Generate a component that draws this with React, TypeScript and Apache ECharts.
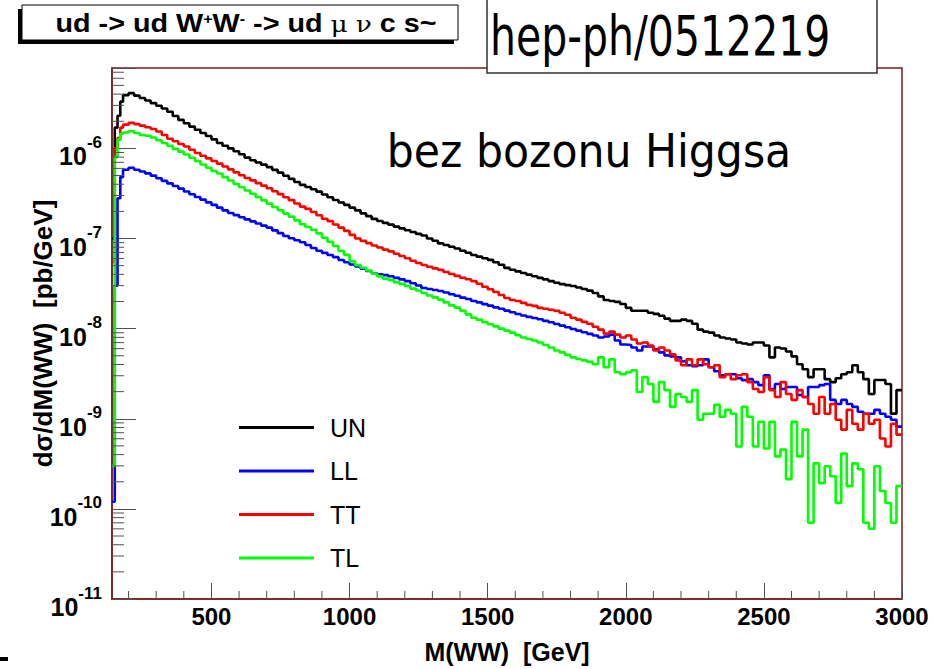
import React, { useEffect, useRef } from 'react';
import * as echarts from 'echarts';

// Bin edges of the M(WW) histograms [GeV]
const BIN_EDGES = [
  140, 150, 160, 170, 180, 200, 220, 240, 260, 280, 300, 320, 340, 360, 380, 400, 420, 440, 460, 480,
  500, 520, 540, 560, 580, 600, 620, 640, 660, 680, 700, 720, 740, 760, 780, 800, 820, 840, 860, 880,
  900, 920, 940, 960, 980, 1000, 1020, 1040, 1060, 1080, 1100, 1120, 1140, 1160, 1180, 1200, 1220, 1240, 1260, 1280,
  1300, 1320, 1340, 1360, 1380, 1400, 1420, 1440, 1460, 1480, 1500, 1520, 1540, 1560, 1580, 1600, 1620, 1640, 1660, 1680,
  1700, 1720, 1740, 1760, 1780, 1800, 1820, 1840, 1860, 1880, 1900, 1920, 1940, 1960, 1980, 2000, 2020, 2040, 2060, 2080,
  2100, 2120, 2140, 2160, 2180, 2200, 2220, 2240, 2260, 2280, 2300, 2320, 2340, 2360, 2380, 2400, 2420, 2440, 2460, 2480,
  2500, 2520, 2540, 2560, 2580, 2600, 2620, 2640, 2660, 2680, 2700, 2720, 2740, 2760, 2780, 2800, 2820, 2840, 2860, 2880,
  2900, 2920, 2940, 2960, 2980, 3000,
];

// dsigma/dM(WW) [pb/GeV] per bin
const UN = [
  1.0e-7, 1.7e-6, 2.3e-6, 3.3e-6,
  3.9e-6, 4.1e-6, 3.85e-6, 3.63e-6, 3.4e-6, 3.18e-6, 2.97e-6, 2.77e-6, 2.55e-6, 2.29e-6,
  2.07e-6, 1.9e-6, 1.745e-6, 1.61e-6, 1.48e-6, 1.37e-6, 1.26e-6, 1.15e-6, 1.07e-6, 1.0e-6,
  9.3e-7, 8.6e-7, 7.9e-7, 7.4e-7, 6.97e-7, 6.6e-7, 6.2e-7, 5.78e-7, 5.38e-7, 4.97e-7,
  4.59e-7, 4.23e-7, 3.94e-7, 3.73e-7, 3.52e-7, 3.31e-7, 3.08e-7, 2.87e-7, 2.68e-7, 2.51e-7,
  2.36e-7, 2.2e-7, 2.05e-7, 1.9e-7, 1.77e-7, 1.65e-7, 1.565e-7, 1.49e-7, 1.425e-7, 1.355e-7,
  1.295e-7, 1.234e-7, 1.18e-7, 1.126e-7, 1.08e-7, 1.0e-7, 9.43e-8, 8.83e-8, 8.48e-8, 8.1e-8,
  7.76e-8, 7.31e-8, 6.95e-8, 6.57e-8, 6.29e-8, 6.03e-8, 5.8e-8, 5.45e-8, 5.11e-8, 4.72e-8,
  4.5e-8, 4.32e-8, 4.15e-8, 3.97e-8, 3.82e-8, 3.66e-8, 3.52e-8, 3.37e-8, 3.23e-8, 3.12e-8,
  3.04e-8, 2.97e-8, 2.86e-8, 2.75e-8, 2.64e-8, 2.49e-8, 2.28e-8, 2.08e-8, 2.03e-8, 1.98e-8,
  1.88e-8, 1.7e-8, 1.58e-8, 1.58e-8, 1.58e-8, 1.5e-8, 1.46e-8, 1.39e-8, 1.29e-8, 1.22e-8,
  1.22e-8, 1.26e-8, 1.22e-8, 1.135e-8, 9.75e-9, 9.27e-9, 9.04e-9, 8.38e-9, 7.96e-9, 7.76e-9,
  7.57e-9, 7.02e-9, 6.84e-9, 6.67e-9, 7.02e-9, 7.02e-9, 6.5e-9, 4.8e-9, 6.18e-9, 6.03e-9,
  5.58e-9, 4.92e-9, 4.02e-9, 3.54e-9, 2.9e-9, 3.54e-9, 3.54e-9, 2.75e-9, 2.55e-9, 2.82e-9,
  3.12e-9, 3.28e-9, 3.92e-9, 3.28e-9, 2.75e-9, 1.88e-9, 2.69e-9, 2.69e-9, 2.43e-9, 1.14e-9,
  2.08e-9,
];

const LL = [
  1.2e-10, 3.0e-8, 2.8e-7, 4.8e-7,
  5.8e-7, 6.1e-7, 5.8e-7, 5.55e-7, 5.28e-7, 4.99e-7, 4.66e-7, 4.36e-7, 4.09e-7, 3.82e-7,
  3.58e-7, 3.33e-7, 3.1e-7, 2.89e-7, 2.7e-7, 2.52e-7, 2.36e-7, 2.2e-7, 2.05e-7, 1.92e-7,
  1.82e-7, 1.72e-7, 1.63e-7, 1.55e-7, 1.47e-7, 1.39e-7, 1.32e-7, 1.23e-7, 1.147e-7, 1.065e-7,
  1.008e-7, 9.58e-8, 9.1e-8, 8.46e-8, 7.84e-8, 7.31e-8, 6.93e-8, 6.57e-8, 6.21e-8, 5.77e-8,
  5.45e-8, 5.14e-8, 4.91e-8, 4.62e-8, 4.36e-8, 4.11e-8, 4.02e-8, 3.92e-8, 3.82e-8, 3.66e-8,
  3.52e-8, 3.37e-8, 3.19e-8, 3.01e-8, 2.82e-8, 2.75e-8, 2.68e-8, 2.62e-8, 2.52e-8, 2.41e-8,
  2.32e-8, 2.21e-8, 2.13e-8, 2.03e-8, 1.955e-8, 1.87e-8, 1.8e-8, 1.72e-8, 1.66e-8, 1.585e-8,
  1.52e-8, 1.455e-8, 1.4e-8, 1.35e-8, 1.31e-8, 1.27e-8, 1.22e-8, 1.176e-8, 1.126e-8, 1.081e-8,
  1.038e-8, 9.9e-9, 9.5e-9, 9.13e-9, 8.75e-9, 8.38e-9, 7.96e-9, 8.17e-9, 8.59e-9, 7.38e-9,
  6.67e-9, 6.59e-9, 6.18e-9, 5.73e-9, 6.34e-9, 6.34e-9, 5.88e-9, 5.45e-9, 5.05e-9, 4.92e-9,
  4.8e-9, 4.34e-9, 3.92e-9, 3.82e-9, 3.92e-9, 4.56e-9, 3.73e-9, 3.37e-9, 3.04e-9, 3.12e-9,
  3.12e-9, 2.82e-9, 2.68e-9, 2.75e-9, 2.55e-9, 2.36e-9, 3.04e-9, 2.14e-9, 2.43e-9, 2.14e-9,
  2.25e-9, 2.25e-9, 1.835e-9, 1.745e-9, 2.25e-9, 2.25e-9, 2.36e-9, 2.43e-9, 1.62e-9, 1.46e-9,
  1.62e-9, 1.46e-9, 1.355e-9, 1.194e-9, 1.135e-9, 1.135e-9, 1.256e-9, 1.135e-9, 1.052e-9, 9.75e-10,
  8.17e-10,
];

const TT = [
  5.5e-8, 1.0e-6, 1.3e-6, 1.7e-6,
  1.835e-6, 1.92e-6, 1.86e-6, 1.79e-6, 1.715e-6, 1.64e-6, 1.54e-6, 1.41e-6, 1.28e-6, 1.2e-6,
  1.12e-6, 1.05e-6, 9.65e-7, 8.88e-7, 8.29e-7, 7.74e-7, 7.25e-7, 6.77e-7, 6.29e-7, 5.85e-7,
  5.42e-7, 5.04e-7, 4.69e-7, 4.42e-7, 4.12e-7, 3.86e-7, 3.61e-7, 3.34e-7, 3.11e-7, 2.87e-7,
  2.67e-7, 2.45e-7, 2.26e-7, 2.13e-7, 1.97e-7, 1.81e-7, 1.66e-7, 1.56e-7, 1.43e-7, 1.32e-7,
  1.215e-7, 1.098e-7, 1.0e-7, 9.41e-8, 8.88e-8, 8.38e-8, 7.96e-8, 7.53e-8, 7.2e-8, 6.77e-8,
  6.4e-8, 6.03e-8, 5.67e-8, 5.34e-8, 5.09e-8, 4.87e-8, 4.66e-8, 4.49e-8, 4.25e-8, 4.04e-8,
  3.85e-8, 3.67e-8, 3.53e-8, 3.37e-8, 3.15e-8, 2.92e-8, 2.74e-8, 2.55e-8, 2.36e-8, 2.19e-8,
  2.08e-8, 2.03e-8, 1.93e-8, 1.835e-8, 1.79e-8, 1.7e-8, 1.66e-8, 1.62e-8, 1.58e-8, 1.5e-8,
  1.425e-8, 1.32e-8, 1.26e-8, 1.19e-8, 1.135e-8, 1.05e-8, 9.75e-9, 8.81e-9, 9.27e-9, 8.59e-9,
  7.96e-9, 8.38e-9, 7.57e-9, 6.84e-9, 7.02e-9, 6.5e-9, 5.73e-9, 6.18e-9, 5.73e-9, 5.18e-9,
  4.45e-9, 3.92e-9, 4.56e-9, 3.92e-9, 4.56e-9, 4.02e-9, 3.73e-9, 3.92e-9, 2.89e-9, 3.12e-9,
  2.75e-9, 3.04e-9, 3.12e-9, 2.55e-9, 2.14e-9, 1.98e-9, 2.89e-9, 2.08e-9, 1.745e-9, 2.55e-9,
  1.88e-9, 1.62e-9, 2.08e-9, 1.745e-9, 1.46e-9, 1.135e-9, 1.745e-9, 1.135e-9, 1.46e-9, 9.75e-10,
  7.57e-10, 1.256e-9, 8.81e-10, 7.57e-10, 1.135e-9, 8.81e-10, 9.75e-10, 6.03e-10, 4.92e-10, 8.81e-10,
  6.67e-10,
];

const TL = [
  3.0e-10, 8.0e-7, 1.25e-6, 1.45e-6,
  1.5e-6, 1.55e-6, 1.48e-6, 1.41e-6, 1.38e-6, 1.32e-6, 1.23e-6, 1.15e-6, 1.07e-6, 9.87e-7,
  9.2e-7, 8.55e-7, 7.86e-7, 7.23e-7, 6.62e-7, 6.1e-7, 5.62e-7, 5.26e-7, 4.8e-7, 4.41e-7,
  4.03e-7, 3.71e-7, 3.41e-7, 3.14e-7, 2.88e-7, 2.65e-7, 2.44e-7, 2.24e-7, 2.06e-7, 1.89e-7,
  1.75e-7, 1.59e-7, 1.44e-7, 1.34e-7, 1.25e-7, 1.14e-7, 1.02e-7, 9.22e-8, 8.27e-8, 7.29e-8,
  6.59e-8, 5.59e-8, 5.07e-8, 4.73e-8, 4.41e-8, 4.09e-8, 3.8e-8, 3.59e-8, 3.48e-8, 3.28e-8,
  3.14e-8, 2.97e-8, 2.78e-8, 2.65e-8, 2.49e-8, 2.33e-8, 2.22e-8, 2.1e-8, 1.955e-8, 1.81e-8,
  1.71e-8, 1.58e-8, 1.44e-8, 1.32e-8, 1.26e-8, 1.18e-8, 1.12e-8, 1.06e-8, 1.0e-8, 9.5e-9,
  9.04e-9, 8.46e-9, 7.96e-9, 7.66e-9, 7.38e-9, 7.02e-9, 6.59e-9, 6.18e-9, 5.73e-9, 5.45e-9,
  5.11e-9, 4.8e-9, 4.61e-9, 4.45e-9, 4.28e-9, 4.02e-9, 4.8e-9, 3.73e-9, 4.56e-9, 3.28e-9,
  3.12e-9, 3.28e-9, 3.45e-9, 1.98e-9, 2.89e-9, 2.43e-9, 1.54e-9, 2.55e-9, 2.08e-9, 1.355e-9,
  1.88e-9, 1.745e-9, 1.54e-9, 2.08e-9, 9.75e-10, 1.135e-9, 1.135e-9, 1.425e-9, 1.052e-9, 1.256e-9,
  1.135e-9, 4.92e-10, 1.355e-9, 1.052e-9, 4.92e-10, 9.27e-10, 4.68e-10, 9.27e-10, 3.82e-10, 4.56e-10,
  2.14e-10, 9.27e-10, 3.82e-10, 7.57e-10, 7.02e-11, 3.2e-10, 1.93e-10, 2.97e-10, 2.3e-10, 1.163e-10,
  4.12e-10, 1.79e-10, 3.2e-10, 2.75e-10, 7.02e-11, 6.03e-11, 2.97e-10, 1.58e-10, 1.163e-10, 7.02e-11,
  1.79e-10,
];

const SERIES_NAMES = ['UN', 'LL', 'TT', 'TL'];
const SERIES_COLORS = ['#000000', '#0000ff', '#ff0000', '#00ff00'];

const X_MIN = 140;
const X_MAX = 3000;
const Y_MIN = 1e-11;
const Y_MAX = 7.8e-6;
const X_MAJOR_TICKS = [500, 1000, 1500, 2000, 2500, 3000];
const X_MINOR_TICKS = [200, 300, 400, 600, 700, 800, 900, 1100, 1200, 1300, 1400, 1600, 1700, 1800, 1900, 2100, 2200, 2300, 2400, 2600, 2700, 2800, 2900];
const Y_DECADES = [-11, -10, -9, -8, -7, -6];
const Y_MINOR_MANTISSAS = [2, 3, 4, 5, 6, 7, 8, 9];

const TITLE_TEXT = 'ud -> ud W{sup|+}W{sup|-} -> ud {g|μ} {g|ν} c s~';
const ARXIV_TEXT = 'hep-ph/0512219';
const NOTE_TEXT = 'bez bozonu Higgsa';
const X_TITLE = 'M(WW)  [GeV]';
const Y_TITLE = 'dσ/dM(WW)  [pb/GeV]';

const FONT = "'Liberation Sans', Arial, Helvetica, sans-serif";
const FRAME = '#7a1c1c';
const TICK = '#505050';

function histPoints(vals: number[]) {
  const pts: number[][] = vals.map((v, i) => [BIN_EDGES[i], v]);
  pts.push([BIN_EDGES[vals.length], vals[vals.length - 1]]);
  return pts;
}

export default function App() {
  const ref = useRef<HTMLDivElement>(null);

  useEffect(() => {
    document.body.style.margin = '0';
    if (!ref.current) return;
    const chart = echarts.init(ref.current, undefined, { renderer: 'svg' });

    const yMinor: number[][] = [];
    Y_DECADES.forEach((d) => {
      Y_MINOR_MANTISSAS.forEach((m) => {
        const v = m * Math.pow(10, d);
        if (v < Y_MAX) yMinor.push([X_MIN, v]);
      });
    });

    const seriesData = [UN, LL, TT, TL];

    const option: any = {
      animation: false,
      backgroundColor: '#ffffff',
      grid: {
        left: 112, top: 68, width: 790, height: 536,
        show: true, borderColor: FRAME, borderWidth: 1.5, backgroundColor: 'transparent',
      },
      legend: {
        data: SERIES_NAMES,
        orient: 'vertical',
        left: 239,
        top: 415,
        padding: 0,
        icon: 'rect',
        itemWidth: 75,
        itemHeight: 3,
        itemGap: 18.5,
        selectedMode: false,
        textStyle: { fontFamily: FONT, fontSize: 25, color: '#000', lineHeight: 25, padding: [0, 0, 0, 11] },
      },
      xAxis: {
        type: 'value',
        min: X_MIN,
        max: X_MAX,
        axisLine: { show: true, lineStyle: { color: FRAME, width: 1.5 } },
        axisTick: { show: true, inside: true, length: 16, customValues: X_MAJOR_TICKS, lineStyle: { color: TICK, width: 1 } },
        axisLabel: {
          customValues: X_MAJOR_TICKS,
          margin: 5,
          formatter: (v: number) => String(Math.round(v)),
          fontFamily: FONT, fontSize: 24, fontWeight: 'bold', color: '#000',
        },
        splitLine: { show: false },
        name: X_TITLE,
        nameLocation: 'middle',
        nameGap: 40,
        nameTextStyle: { fontFamily: FONT, fontSize: 25, fontWeight: 'bold', color: '#000' },
      },
      yAxis: {
        type: 'log',
        logBase: 10,
        min: Y_MIN,
        max: Y_MAX,
        axisLine: { show: true, lineStyle: { color: FRAME, width: 1.5 } },
        axisTick: { show: true, inside: true, length: 24, lineStyle: { color: TICK, width: 1 } },
        minorTick: { show: false },
        splitLine: { show: false },
        axisLabel: {
          margin: 10,
          padding: [16, 0, 0, 0],
          fontFamily: FONT,
          fontSize: 25,
          fontWeight: 'bold',
          color: '#000',
          formatter: (v: number) => {
            const e = Math.log10(v);
            const r = Math.round(e);
            if (Math.abs(e - r) > 0.01) return '';
            return '{b|10}{s|' + r + '}';
          },
          rich: {
            b: { fontFamily: FONT, fontSize: 25, fontWeight: 'bold', color: '#000', verticalAlign: 'bottom', lineHeight: 25 },
            s: { fontFamily: FONT, fontSize: 17, fontWeight: 'bold', color: '#000', verticalAlign: 'bottom', lineHeight: 17, padding: [0, 0, 18, 0] },
          },
        },
        name: Y_TITLE,
        nameLocation: 'middle',
        nameGap: 56,
        nameMoveOverlap: false,
        nameTextStyle: { fontFamily: FONT, fontSize: 26, fontWeight: 'bold', color: '#000' },
      },
      series: [
        ...seriesData.map((vals, i) => ({
          type: 'line',
          name: SERIES_NAMES[i],
          data: histPoints(vals),
          step: 'end',
          symbol: 'none',
          showSymbol: false,
          clip: true,
          lineStyle: { color: SERIES_COLORS[i], width: 2.6 },
          itemStyle: { color: SERIES_COLORS[i] },
          z: 3 + i,
        })),
        {
          type: 'custom',
          name: 'yminor',
          silent: true,
          data: yMinor,
          z: 10,
          renderItem: (params: any, api: any) => {
            const p = api.coord([api.value(0), api.value(1)]);
            return { type: 'line', shape: { x1: p[0], y1: p[1], x2: p[0] + 12, y2: p[1] }, style: { stroke: TICK, lineWidth: 1 } };
          },
        },
        {
          type: 'custom',
          name: 'xminor',
          silent: true,
          data: X_MINOR_TICKS.map((x) => [x, Y_MIN]),
          z: 10,
          renderItem: (params: any, api: any) => {
            const p = api.coord([api.value(0), api.value(1)]);
            return { type: 'line', shape: { x1: p[0], y1: p[1], x2: p[0], y2: p[1] - 8 }, style: { stroke: TICK, lineWidth: 1 } };
          },
        },
      ],
      graphic: [
        { type: 'rect', z: 100, shape: { x: 18, y: 9, width: 436, height: 35 }, style: { fill: '#000' } },
        { type: 'rect', z: 101, shape: { x: 22, y: 5, width: 436, height: 35 }, style: { fill: '#fff', stroke: '#000', lineWidth: 1 } },
        {
          type: 'text', z: 102, x: 246, y: 24, scaleX: 1.15,
          style: {
            text: TITLE_TEXT,
            fontFamily: FONT, fontSize: 25, fontWeight: 'bold', fill: '#000',
            textAlign: 'center', textVerticalAlign: 'middle',
            rich: {
              sup: { fontFamily: FONT, fontSize: 14, fontWeight: 'bold', fill: '#000', verticalAlign: 'top', padding: [0, 0, 6, 0] },
              g: { fontFamily: "'DejaVu Serif', 'Liberation Serif', serif", fontSize: 23, fontWeight: 'normal', fill: '#000' },
            },
          },
        },
        { type: 'rect', z: 100, shape: { x: 487, y: -2, width: 390, height: 75 }, style: { fill: '#fff', stroke: '#333', lineWidth: 1.5 } },
        {
          type: 'text', z: 102, x: 490, y: 36, scaleY: 1.33,
          style: { text: ARXIV_TEXT, fontFamily: "'DejaVu Sans', sans-serif", fontSize: 41, fill: '#000', textAlign: 'left', textVerticalAlign: 'middle' },
        },
        {
          type: 'text', z: 102, x: 589, y: 151, scaleY: 1.08,
          style: { text: NOTE_TEXT, fontFamily: "'DejaVu Sans', sans-serif", fontSize: 42.6, fill: '#000', textAlign: 'center', textVerticalAlign: 'middle' },
        },
        { type: 'rect', z: 100, shape: { x: 0, y: 657, width: 8, height: 4 }, style: { fill: '#000' } },
      ],
    };

    chart.setOption(option);
    return () => chart.dispose();
  }, []);

  return <div ref={ref} style={{ position: 'absolute', left: 0, top: 0, width: 934, height: 669 }} />;
}
